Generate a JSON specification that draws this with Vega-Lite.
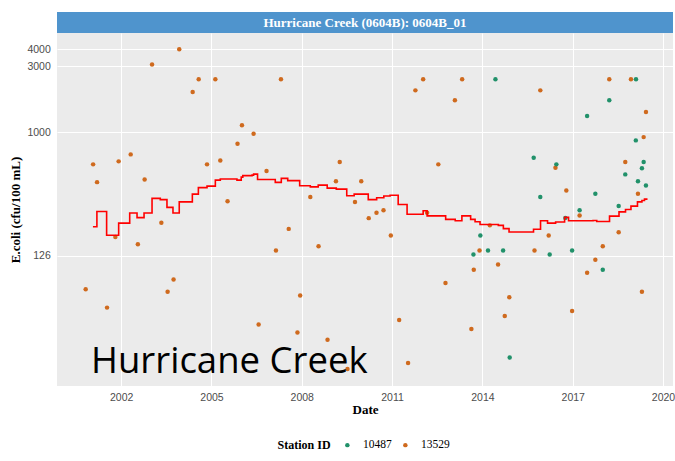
{
  "$schema": "https://vega.github.io/schema/vega-lite/v6.json",
  "padding": {"left": 9, "top": 12, "right": 1, "bottom": 2},
  "background": "white",
  "spacing": 0,
  "bounds": "flush",
  "datasets": {
    "strip": [{"label": "Hurricane Creek (0604B): 0604B_01"}],
    "anno": [{"date": "2001-01-01", "ecoli": 17.75, "label": "Hurricane Creek"}],
    "obs": [
      {"date": "2000-10-28", "station": "13529", "ecoli": 72},
      {"date": "2001-01-26", "station": "13529", "ecoli": 583},
      {"date": "2001-03-15", "station": "13529", "ecoli": 433},
      {"date": "2001-07-14", "station": "13529", "ecoli": 53},
      {"date": "2001-10-23", "station": "13529", "ecoli": 173},
      {"date": "2001-12-02", "station": "13529", "ecoli": 613},
      {"date": "2002-04-27", "station": "13529", "ecoli": 689},
      {"date": "2002-07-23", "station": "13529", "ecoli": 153},
      {"date": "2002-10-13", "station": "13529", "ecoli": 453},
      {"date": "2003-01-11", "station": "13529", "ecoli": 3100},
      {"date": "2003-05-04", "station": "13529", "ecoli": 219},
      {"date": "2003-07-19", "station": "13529", "ecoli": 69},
      {"date": "2003-09-29", "station": "13529", "ecoli": 85},
      {"date": "2003-12-07", "station": "13529", "ecoli": 4000},
      {"date": "2004-05-18", "station": "13529", "ecoli": 1960},
      {"date": "2004-07-30", "station": "13529", "ecoli": 2420},
      {"date": "2004-11-08", "station": "13529", "ecoli": 583},
      {"date": "2005-02-17", "station": "13529", "ecoli": 2420},
      {"date": "2005-04-18", "station": "13529", "ecoli": 623},
      {"date": "2005-07-15", "station": "13529", "ecoli": 315},
      {"date": "2005-11-13", "station": "13529", "ecoli": 823},
      {"date": "2006-01-06", "station": "13529", "ecoli": 1120},
      {"date": "2006-05-27", "station": "13529", "ecoli": 973},
      {"date": "2006-07-27", "station": "13529", "ecoli": 40},
      {"date": "2006-10-31", "station": "13529", "ecoli": 521},
      {"date": "2007-02-22", "station": "13529", "ecoli": 138},
      {"date": "2007-04-24", "station": "13529", "ecoli": 2420},
      {"date": "2007-07-27", "station": "13529", "ecoli": 198},
      {"date": "2007-11-10", "station": "13529", "ecoli": 35},
      {"date": "2007-12-13", "station": "13529", "ecoli": 65},
      {"date": "2008-04-14", "station": "13529", "ecoli": 337},
      {"date": "2008-07-23", "station": "13529", "ecoli": 148},
      {"date": "2008-11-09", "station": "13529", "ecoli": 31},
      {"date": "2009-02-19", "station": "13529", "ecoli": 440},
      {"date": "2009-04-06", "station": "13529", "ecoli": 606},
      {"date": "2009-07-09", "station": "13529", "ecoli": 19},
      {"date": "2009-10-08", "station": "13529", "ecoli": 310},
      {"date": "2009-12-23", "station": "13529", "ecoli": 440},
      {"date": "2010-03-24", "station": "13529", "ecoli": 237},
      {"date": "2010-06-26", "station": "13529", "ecoli": 259},
      {"date": "2010-09-19", "station": "13529", "ecoli": 270},
      {"date": "2010-12-17", "station": "13529", "ecoli": 177},
      {"date": "2011-03-28", "station": "13529", "ecoli": 43},
      {"date": "2011-07-14", "station": "13529", "ecoli": 21},
      {"date": "2011-10-11", "station": "13529", "ecoli": 2012},
      {"date": "2012-01-13", "station": "13529", "ecoli": 2420},
      {"date": "2012-03-01", "station": "13529", "ecoli": 259},
      {"date": "2012-07-15", "station": "13529", "ecoli": 583},
      {"date": "2012-10-10", "station": "13529", "ecoli": 80},
      {"date": "2013-02-01", "station": "13529", "ecoli": 1702},
      {"date": "2013-04-30", "station": "13529", "ecoli": 2420},
      {"date": "2013-08-20", "station": "13529", "ecoli": 37},
      {"date": "2013-09-18", "station": "13529", "ecoli": 100},
      {"date": "2013-11-27", "station": "13529", "ecoli": 138},
      {"date": "2014-04-01", "station": "13529", "ecoli": 210},
      {"date": "2014-07-10", "station": "13529", "ecoli": 109},
      {"date": "2014-09-29", "station": "13529", "ecoli": 46},
      {"date": "2014-11-23", "station": "13529", "ecoli": 63},
      {"date": "2015-09-25", "station": "13529", "ecoli": 138},
      {"date": "2015-12-04", "station": "13529", "ecoli": 2012},
      {"date": "2016-03-15", "station": "13529", "ecoli": 177},
      {"date": "2016-06-05", "station": "13529", "ecoli": 550},
      {"date": "2016-10-15", "station": "13529", "ecoli": 377},
      {"date": "2016-12-24", "station": "13529", "ecoli": 50},
      {"date": "2017-03-25", "station": "13529", "ecoli": 248},
      {"date": "2017-06-24", "station": "13529", "ecoli": 95},
      {"date": "2017-10-02", "station": "13529", "ecoli": 118},
      {"date": "2017-12-31", "station": "13529", "ecoli": 148},
      {"date": "2018-03-20", "station": "13529", "ecoli": 2420},
      {"date": "2018-07-12", "station": "13529", "ecoli": 187},
      {"date": "2018-09-30", "station": "13529", "ecoli": 606},
      {"date": "2018-12-08", "station": "13529", "ecoli": 2420},
      {"date": "2019-03-03", "station": "13529", "ecoli": 356},
      {"date": "2019-04-20", "station": "13529", "ecoli": 69},
      {"date": "2019-05-11", "station": "13529", "ecoli": 920},
      {"date": "2019-06-08", "station": "13529", "ecoli": 1399},
      {"date": "2013-09-14", "station": "10487", "ecoli": 129},
      {"date": "2013-12-07", "station": "10487", "ecoli": 177},
      {"date": "2014-03-10", "station": "10487", "ecoli": 138},
      {"date": "2014-06-08", "station": "10487", "ecoli": 2420},
      {"date": "2014-09-09", "station": "10487", "ecoli": 138},
      {"date": "2014-11-28", "station": "10487", "ecoli": 23},
      {"date": "2015-09-15", "station": "10487", "ecoli": 651},
      {"date": "2015-12-04", "station": "10487", "ecoli": 337},
      {"date": "2016-03-27", "station": "10487", "ecoli": 129},
      {"date": "2016-06-16", "station": "10487", "ecoli": 583},
      {"date": "2016-10-03", "station": "10487", "ecoli": 238},
      {"date": "2016-12-24", "station": "10487", "ecoli": 138},
      {"date": "2017-03-25", "station": "10487", "ecoli": 270},
      {"date": "2017-06-24", "station": "10487", "ecoli": 1308},
      {"date": "2017-10-02", "station": "10487", "ecoli": 356},
      {"date": "2017-12-31", "station": "10487", "ecoli": 100},
      {"date": "2018-03-20", "station": "10487", "ecoli": 1702},
      {"date": "2018-07-12", "station": "10487", "ecoli": 290},
      {"date": "2018-09-30", "station": "10487", "ecoli": 493},
      {"date": "2019-02-05", "station": "10487", "ecoli": 871},
      {"date": "2019-02-07", "station": "10487", "ecoli": 2420},
      {"date": "2019-03-03", "station": "10487", "ecoli": 440},
      {"date": "2019-04-20", "station": "10487", "ecoli": 547},
      {"date": "2019-05-11", "station": "10487", "ecoli": 606},
      {"date": "2019-06-08", "station": "10487", "ecoli": 410}
    ],
    "gm": [
      {"date": "2001-01-24", "ecoli": 205},
      {"date": "2001-03-13", "ecoli": 265},
      {"date": "2001-07-09", "ecoli": 178},
      {"date": "2001-12-02", "ecoli": 218},
      {"date": "2002-04-15", "ecoli": 258},
      {"date": "2002-07-13", "ecoli": 239},
      {"date": "2002-10-06", "ecoli": 258},
      {"date": "2003-01-11", "ecoli": 330},
      {"date": "2003-04-21", "ecoli": 323},
      {"date": "2003-07-11", "ecoli": 284},
      {"date": "2003-09-22", "ecoli": 258},
      {"date": "2003-12-07", "ecoli": 311},
      {"date": "2004-05-14", "ecoli": 354},
      {"date": "2004-07-26", "ecoli": 395},
      {"date": "2004-11-08", "ecoli": 405},
      {"date": "2005-02-17", "ecoli": 448},
      {"date": "2005-04-18", "ecoli": 456},
      {"date": "2005-11-06", "ecoli": 448},
      {"date": "2005-12-28", "ecoli": 471},
      {"date": "2006-01-16", "ecoli": 483},
      {"date": "2006-05-08", "ecoli": 487},
      {"date": "2006-05-27", "ecoli": 495},
      {"date": "2006-07-14", "ecoli": 452},
      {"date": "2007-02-14", "ecoli": 431},
      {"date": "2007-04-28", "ecoli": 461},
      {"date": "2007-07-15", "ecoli": 444},
      {"date": "2007-12-07", "ecoli": 408},
      {"date": "2008-04-14", "ecoli": 400},
      {"date": "2008-07-19", "ecoli": 412},
      {"date": "2008-11-05", "ecoli": 392},
      {"date": "2009-02-23", "ecoli": 385},
      {"date": "2009-06-30", "ecoli": 345},
      {"date": "2009-09-28", "ecoli": 354},
      {"date": "2010-03-18", "ecoli": 323},
      {"date": "2010-06-28", "ecoli": 333},
      {"date": "2010-09-23", "ecoli": 343},
      {"date": "2010-12-08", "ecoli": 348},
      {"date": "2011-03-16", "ecoli": 298},
      {"date": "2011-07-02", "ecoli": 253},
      {"date": "2012-01-13", "ecoli": 268},
      {"date": "2012-03-01", "ecoli": 246},
      {"date": "2012-10-12", "ecoli": 232},
      {"date": "2013-02-05", "ecoli": 227},
      {"date": "2013-04-27", "ecoli": 246},
      {"date": "2013-08-11", "ecoli": 232},
      {"date": "2013-10-04", "ecoli": 223},
      {"date": "2013-12-03", "ecoli": 213},
      {"date": "2014-07-13", "ecoli": 210},
      {"date": "2014-09-12", "ecoli": 199},
      {"date": "2014-11-20", "ecoli": 188},
      {"date": "2015-09-13", "ecoli": 197},
      {"date": "2015-12-07", "ecoli": 227},
      {"date": "2016-03-01", "ecoli": 218},
      {"date": "2016-06-07", "ecoli": 222},
      {"date": "2016-09-24", "ecoli": 240},
      {"date": "2016-11-11", "ecoli": 227},
      {"date": "2017-09-04", "ecoli": 228},
      {"date": "2017-10-19", "ecoli": 224},
      {"date": "2018-03-23", "ecoli": 245},
      {"date": "2018-07-16", "ecoli": 263},
      {"date": "2018-10-03", "ecoli": 274},
      {"date": "2018-12-08", "ecoli": 290},
      {"date": "2019-02-25", "ecoli": 311},
      {"date": "2019-04-20", "ecoli": 318},
      {"date": "2019-05-21", "ecoli": 326},
      {"date": "2019-06-17", "ecoli": 330}
    ]
  },
  "vconcat": [
    {
      "width": 616,
      "height": 21,
      "view": {"fill": "#4F94CD", "stroke": null},
      "data": {"name": "strip"},
      "mark": {"type": "text", "font": "Liberation Serif", "fontWeight": "bold", "fontSize": 13, "color": "white", "align": "center", "baseline": "middle"},
      "encoding": {"text": {"field": "label", "type": "nominal"}}
    },
    {
      "width": 616,
      "height": 353,
      "view": {"fill": "#EBEBEB", "stroke": null},
      "layer": [
        {
          "data": {"name": "obs"},
          "mark": {"type": "circle", "size": 20, "opacity": 1},
          "encoding": {
            "x": {
              "field": "date", "type": "temporal",
              "scale": {"domain": [{"year": 1999, "month": 11, "date": 15}, {"year": 2020, "month": 5, "date": 1}]},
              "axis": {
                "title": "Date",
                "values": [{"year": 2002, "month": 1, "date": 1}, {"year": 2005, "month": 1, "date": 1}, {"year": 2008, "month": 1, "date": 1}, {"year": 2011, "month": 1, "date": 1}, {"year": 2014, "month": 1, "date": 1}, {"year": 2017, "month": 1, "date": 1}, {"year": 2020, "month": 1, "date": 1}],
                "format": "%Y",
                "labelPadding": 6,
                "titlePadding": 1,
                "labelFlush": false
              }
            },
            "y": {
              "field": "ecoli", "type": "quantitative",
              "scale": {"type": "log", "domain": [14.27, 5256], "nice": false},
              "axis": {
                "title": "E.coli (cfu/100 mL)",
                "values": [126, 1000, 3000, 4000],
                "format": "d",
                "labelPadding": 6.7,
                "titlePadding": 4.7,
                "labelOverlap": false
              }
            },
            "color": {
              "field": "station", "type": "nominal",
              "scale": {"domain": ["10487", "13529"], "range": ["#21916A", "#CF6A1E"]},
              "legend": {
                "title": "Station ID",
                "orient": "none",
                "legendX": 220.6,
                "legendY": 427,
                "direction": "horizontal",
                "titleOrient": "left",
                "titleFont": "Liberation Serif",
                "titleFontWeight": "bold",
                "titleFontSize": 12,
                "titleColor": "black",
                "labelFont": "Liberation Serif",
                "labelFontSize": 11.5,
                "labelColor": "black",
                "symbolType": "circle",
                "symbolSize": 20,
                "symbolStrokeWidth": 0,
                "symbolOpacity": 1,
                "labelOffset": 10,
                "columnPadding": 7,
                "titlePadding": 10,
                "padding": 0
              }
            }
          }
        },
        {
          "data": {"name": "gm"},
          "mark": {"type": "line", "interpolate": "step-after", "color": "#FF0000", "strokeWidth": 1.6},
          "encoding": {
            "x": {"field": "date", "type": "temporal"},
            "y": {"field": "ecoli", "type": "quantitative"}
          }
        },
        {
          "mark": {"type": "rule", "color": "#5283B0", "strokeWidth": 1.8, "strokeDash": [8, 5]},
          "encoding": {"y": {"datum": 126}}
        },
        {
          "data": {"name": "anno"},
          "mark": {"type": "text", "font": "Open Sans", "fontSize": 36.5, "color": "black", "align": "left", "baseline": "alphabetic"},
          "encoding": {
            "x": {"field": "date", "type": "temporal"},
            "y": {"field": "ecoli", "type": "quantitative"},
            "text": {"field": "label", "type": "nominal"}
          }
        }
      ]
    }
  ],
  "config": {
    "view": {"stroke": null},
    "axis": {
      "domain": false,
      "ticks": false,
      "grid": true,
      "gridColor": "white",
      "gridWidth": 1,
      "labelFont": "Liberation Sans",
      "labelFontSize": 10.5,
      "labelColor": "#4D4D4D",
      "titleFont": "Liberation Serif",
      "titleFontWeight": "bold",
      "titleFontSize": 13,
      "titleColor": "black"
    }
  }
}
